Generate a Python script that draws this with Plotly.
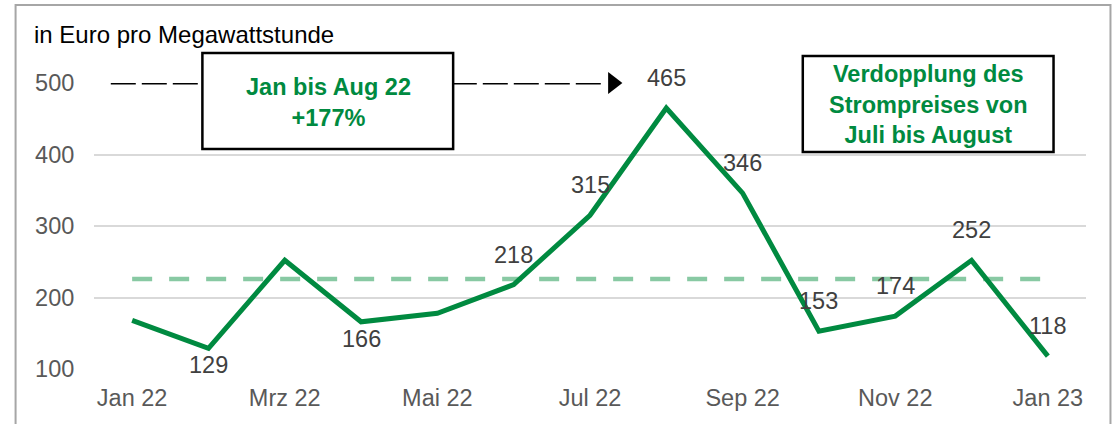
import plotly.graph_objects as go

months = ["Jan 22", "Feb 22", "Mrz 22", "Apr 22", "Mai 22", "Jun 22", "Jul 22",
          "Aug 22", "Sep 22", "Okt 22", "Nov 22", "Dez 22", "Jan 23"]
prices = [168, 129, 252, 166, 178, 218, 315, 465, 346, 153, 174, 252, 118]
labels = ["", "129", "", "166", "", "218", "315", "465", "346", "153", "174", "252", "118"]
label_below = [False, True, False, True, False, False, False, False, False, False,
               False, False, False]
average = [226] * len(months)
tick_months = ["Jan 22", "Mrz 22", "Mai 22", "Jul 22", "Sep 22", "Nov 22", "Jan 23"]
y_ticks = [100, 200, 300, 400, 500]

# arrow from start to Aug 22 at level 500
arrow_x = [-0.28, 6.2]
arrow_y = [500, 500]
arrow_head_x = [6.3]
arrow_head_y = [500]

GREEN = "#008a40"
LIGHT_GREEN = "#88c9a3"
FONT = "Arial, Liberation Sans, sans-serif"
FS = 23.5

W, H = 1117, 424
PL, PR, PT, PB = 93.5, 1086.5, 83.0, 369.0


def px(x):
    return (x - PL) / (PR - PL)


def py(y):
    return (PB - y) / (PB - PT)


fig = go.Figure()

fig.add_trace(go.Scatter(
    x=list(range(len(months))), y=average, mode="lines",
    line=dict(color=LIGHT_GREEN, width=4.5, dash="20px,17px"),
    hoverinfo="skip", showlegend=False))

fig.add_trace(go.Scatter(
    x=list(range(len(months))), y=prices, mode="lines",
    line=dict(color=GREEN, width=5),
    showlegend=False))

fig.add_trace(go.Scatter(
    x=arrow_x, y=arrow_y, mode="lines",
    line=dict(color="black", width=3, dash="25px,6px"),
    hoverinfo="skip", showlegend=False, cliponaxis=False))

fig.add_trace(go.Scatter(
    x=arrow_head_x, y=arrow_head_y, mode="markers",
    marker=dict(symbol="triangle-right", size=19, color="black"),
    hoverinfo="skip", showlegend=False, cliponaxis=False))

for i, (lab, val, below) in enumerate(zip(labels, prices, label_below)):
    if lab:
        fig.add_annotation(x=i, y=val, text=lab, showarrow=False,
                           xanchor="center", yanchor="middle",
                           yshift=-17 if below else 30,
                           font=dict(family=FONT, size=FS, color="#404040"))

# boxes
fig.add_shape(type="rect", xref="paper", yref="paper",
              x0=px(202), x1=px(453), y0=py(149), y1=py(53),
              line=dict(color="black", width=2.5), fillcolor="white", layer="above")
fig.add_shape(type="rect", xref="paper", yref="paper",
              x0=px(803), x1=px(1054), y0=py(152), y1=py(56),
              line=dict(color="black", width=2.5), fillcolor="white", layer="above")
# outer frame
fig.add_shape(type="rect", xref="paper", yref="paper",
              x0=px(15), x1=px(1111), y0=py(440), y1=py(5),
              line=dict(color="#a6a6a6", width=2), layer="below")

fig.add_annotation(xref="paper", yref="paper", x=px(328), y=py(103),
                   xanchor="center", yanchor="middle",
                   text="<b>Jan bis Aug 22<br>+177%</b>", showarrow=False,
                   font=dict(family=FONT, size=FS, color=GREEN), align="center")
fig.add_annotation(xref="paper", yref="paper", x=px(928.5), y=py(105),
                   xanchor="center", yanchor="middle",
                   text="<b>Verdopplung des<br>Strompreises von<br>Juli bis August</b>",
                   showarrow=False, font=dict(family=FONT, size=FS, color=GREEN),
                   align="center")
fig.add_annotation(xref="paper", yref="paper", x=px(31), y=py(34),
                   xanchor="left", yanchor="middle",
                   text="in Euro pro Megawattstunde", showarrow=False,
                   font=dict(family=FONT, size=24, color="black"))

fig.update_layout(
    width=W, height=H,
    margin=dict(l=PL, r=W - PR, t=PT, b=H - PB),
    paper_bgcolor="white", plot_bgcolor="white",
    font=dict(family=FONT, color="#595959", size=FS),
    xaxis=dict(range=[-0.5, 12.5],
               tickvals=[months.index(m) for m in tick_months], ticktext=tick_months,
               showgrid=False, showline=False, zeroline=False,
               ticks="outside", ticklen=8, tickcolor="rgba(0,0,0,0)",
               tickfont=dict(size=FS, color="#595959")),
    yaxis=dict(range=[100, 500], tickvals=y_ticks, showgrid=True,
               gridcolor="#d9d9d9", gridwidth=1.5, zeroline=False, showline=False,
               ticks="outside", ticklen=14, tickcolor="rgba(0,0,0,0)",
               tickfont=dict(size=FS, color="#595959")),
)

fig.write_html("out.html", config={"displayModeBar": False},
               post_script="document.body.style.margin='0';"
                           "document.body.style.overflow='hidden';")
